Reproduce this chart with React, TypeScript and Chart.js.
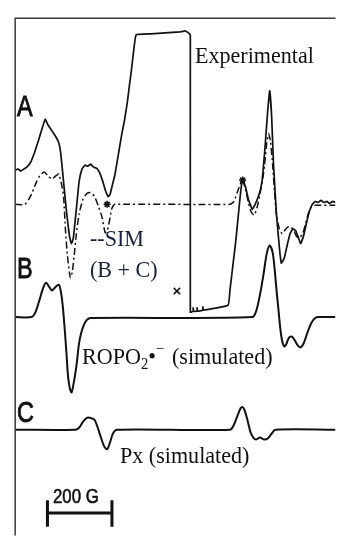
import React, { useEffect, useRef } from "react";
import { Chart, registerables } from "chart.js";

Chart.register(...registerables);

// Magnetic field (G, relative) and signal (arbitrary units)
const expField = [0, 9, 18, 27, 36, 48, 60, 72, 84, 93, 102, 114, 126, 135, 141, 150, 159, 168, 174, 180, 189, 198, 207, 216, 225, 234, 243, 252, 261, 270, 279, 288, 294, 300, 309, 321, 330, 339, 348, 354, 360, 366, 375, 420, 465, 510, 528, 537, 543, 543, 552, 552, 552, 564, 564, 564, 582, 582, 582, 660, 666, 675, 684, 693, 699, 705, 714, 723, 735, 744, 756, 765, 774, 783, 789, 795, 801, 810, 819, 825, 834, 843, 852, 861, 870, 879, 885, 894, 903, 912, 921, 930, 939, 948, 957, 966, 975, 984, 993];
const expSignal = [373, 374, 372, 374, 376, 381, 391, 403, 416, 425, 419, 413, 407, 401, 391, 361, 331, 306, 298, 303, 331, 361, 374, 378, 377, 379, 376, 375, 371, 363, 353, 346, 348, 356, 368, 391, 409, 424, 443, 459, 474, 491, 511, 512, 513, 514, 515, 513, 511, 228, 229, 233, 229, 229, 233, 229, 230, 234, 230, 235, 251, 276, 301, 331, 351, 363, 356, 343, 333, 338, 348, 361, 394, 434, 454, 428, 378, 328, 294, 278, 283, 296, 308, 313, 311, 303, 298, 306, 319, 331, 338, 341, 340, 342, 340, 341, 339, 341, 340];

const simField = [0, 30, 42, 54, 66, 78, 90, 102, 114, 126, 135, 144, 150, 156, 162, 168, 171, 177, 183, 189, 198, 210, 222, 234, 246, 258, 270, 279, 285, 291, 300, 309, 666, 678, 687, 696, 705, 714, 723, 732, 741, 750, 759, 768, 774, 780, 786, 792, 798, 804, 810, 819, 828, 837, 846, 855, 864, 873, 882, 891, 900, 909, 918, 930, 993];
const simSignal = [338, 338, 343, 351, 361, 368, 371, 367, 364, 367, 369, 358, 346, 311, 286, 269, 263, 269, 286, 306, 328, 343, 349, 350, 346, 336, 324, 309, 311, 319, 334, 338, 338, 341, 349, 357, 363, 353, 340, 330, 327, 335, 349, 365, 381, 401, 410, 401, 379, 351, 327, 313, 308, 312, 315, 315, 311, 305, 304, 308, 318, 329, 335, 337, 337];

const bField = [0, 51, 63, 75, 87, 96, 105, 114, 123, 135, 141, 147, 153, 159, 165, 174, 180, 189, 198, 204, 213, 222, 234, 735, 747, 759, 771, 780, 789, 798, 804, 810, 816, 822, 828, 834, 840, 849, 858, 867, 876, 885, 894, 906, 918, 930, 942, 993];
const bSignal = [223, 223, 228, 240, 253, 258, 254, 250, 253, 256, 250, 236, 213, 186, 159, 146, 153, 171, 196, 206, 215, 220, 222, 223, 229, 246, 269, 288, 296, 289, 273, 251, 231, 211, 198, 193, 195, 202, 203, 199, 194, 192, 196, 207, 217, 222, 223, 223];

const cField = [0, 186, 198, 210, 222, 234, 246, 255, 264, 276, 285, 294, 303, 315, 666, 678, 690, 699, 705, 711, 720, 729, 738, 747, 759, 771, 783, 795, 807, 993];
const cSignal = [108, 108, 110, 116, 120, 120, 118, 111, 102, 91, 88, 95, 104, 108, 108, 113, 123, 130, 131, 128, 118, 106, 100, 98, 100, 98, 99, 104, 108, 108];

const starField = [285, 705];
const starSignal = [338, 363];

const labels = ["A", "B", "C"];
const scaleBarG = [100, 300];

const toXY = (xs: number[], ys: number[]) => xs.map((x, i) => ({ x, y: ys[i] }));

const drawText = (
  ctx: CanvasRenderingContext2D,
  text: string,
  x: number,
  y: number,
  font: string,
  sx: number,
  color: string,
  stroke = 0
) => {
  ctx.save();
  ctx.font = font;
  ctx.fillStyle = color;
  ctx.textBaseline = "alphabetic";
  ctx.translate(x, y);
  ctx.scale(sx, 1);
  ctx.fillText(text, 0, 0);
  if (stroke > 0) {
    ctx.strokeStyle = color;
    ctx.lineWidth = stroke;
    ctx.strokeText(text, 0, 0);
  }
  ctx.restore();
};

const decor = {
  id: "decor",
  afterDatasetsDraw(chart: any) {
    const ctx: CanvasRenderingContext2D = chart.ctx;
    const xs = chart.scales.x;
    const ys = chart.scales.y;
    const x0 = xs.getPixelForValue(0);
    const yTop = ys.getPixelForValue(528);
    const yBot = ys.getPixelForValue(0);
    const right = chart.chartArea.right;
    ctx.save();
    ctx.strokeStyle = "#3a3a3a";
    ctx.lineWidth = 1.5;
    ctx.beginPath();
    ctx.moveTo(x0, yBot);
    ctx.lineTo(x0, yTop);
    ctx.lineTo(right, yTop);
    ctx.stroke();

    // scale bar
    const bx1 = xs.getPixelForValue(scaleBarG[0]);
    const bx2 = xs.getPixelForValue(scaleBarG[1]);
    const by = ys.getPixelForValue(23);
    const bt = ys.getPixelForValue(36);
    const bb = ys.getPixelForValue(9);
    ctx.strokeStyle = "#111";
    ctx.lineWidth = 3;
    ctx.beginPath();
    ctx.moveTo(bx1, by);
    ctx.lineTo(bx2, by);
    ctx.moveTo(bx1, bt);
    ctx.lineTo(bx1, bb);
    ctx.moveTo(bx2, bt);
    ctx.lineTo(bx2, bb);
    ctx.stroke();
    ctx.restore();

    const sans30 = "30px 'Liberation Sans', Arial, sans-serif";
    const serif = "24px 'Liberation Serif', 'Times New Roman', serif";
    const ink = "#111";
    drawText(ctx, labels[0], 17, 116, sans30, 0.78, ink, 0.9);
    drawText(ctx, labels[1], 17, 278, sans30, 0.78, ink, 0.9);
    drawText(ctx, labels[2], 17, 422, sans30, 0.78, ink, 0.9);

    drawText(ctx, "Experimental", 195, 63, serif, 0.92, ink);
    drawText(ctx, "--SIM", 90, 246, serif, 0.92, "#17203a");
    drawText(ctx, "(B + C)", 90, 277, serif, 0.92, "#17203a");

    ctx.save();
    ctx.font = "bold 15px 'Liberation Sans', Arial, sans-serif";
    ctx.fillStyle = ink;
    ctx.textAlign = "center";
    ctx.textBaseline = "middle";
    ctx.fillText("×", 177, 292);
    ctx.restore();

    // ROPO2•− (simulated)
    ctx.save();
    let cx = 82;
    const base = 364;
    const sx = 0.92;
    ctx.fillStyle = ink;
    ctx.font = serif;
    const w1 = ctx.measureText("ROPO").width * sx;
    drawText(ctx, "ROPO", cx, base, serif, sx, ink);
    cx += w1;
    const sub = "16px 'Liberation Serif', 'Times New Roman', serif";
    ctx.font = sub;
    const w2 = ctx.measureText("2").width * sx;
    drawText(ctx, "2", cx, base + 5, sub, sx, ink);
    cx += w2;
    ctx.font = serif;
    const w3 = ctx.measureText("•").width * sx;
    drawText(ctx, "•", cx, base, serif, sx, ink);
    cx += w3;
    const sup = "16px 'Liberation Serif', 'Times New Roman', serif";
    drawText(ctx, "−", cx, base - 10, sup, sx, ink);
    ctx.restore();
    drawText(ctx, "(simulated)", 172, base, serif, 0.92, ink);

    drawText(ctx, "Px (simulated)", 120, 463, serif, 0.92, ink);
    drawText(ctx, "200 G", 53, 503, "21px 'Liberation Sans', Arial, sans-serif", 0.8, ink, 0.6);
  },
};

export default function App() {
  const ref = useRef<HTMLCanvasElement>(null);
  useEffect(() => {
    const chart = new Chart(ref.current as HTMLCanvasElement, {
      type: "line",
      data: {
        datasets: [
          {
            label: "Experimental",
            data: toXY(expField, expSignal),
            borderColor: "#111",
            borderWidth: 1.7,
            pointRadius: 0,
            tension: 0.1,
          },
          {
            label: "SIM (B + C)",
            data: toXY(simField, simSignal),
            borderColor: "#111",
            borderWidth: 1.5,
            borderDash: [7, 3, 2, 3],
            pointRadius: 0,
            tension: 0.2,
          },
          {
            label: "ROPO2 (simulated)",
            data: toXY(bField, bSignal),
            borderColor: "#111",
            borderWidth: 2,
            pointRadius: 0,
            tension: 0.3,
          },
          {
            label: "Px (simulated)",
            data: toXY(cField, cSignal),
            borderColor: "#111",
            borderWidth: 2,
            pointRadius: 0,
            tension: 0.3,
          },
          {
            label: "marks",
            type: "scatter",
            data: toXY(starField, starSignal),
            showLine: false,
            pointStyle: "star",
            pointRadius: 3.5,
            borderColor: "#111",
            borderWidth: 1.5,
            backgroundColor: "#111",
          } as any,
        ],
      },
      options: {
        animation: false,
        responsive: false,
        events: [],
        layout: { padding: 0 },
        plugins: { legend: { display: false }, tooltip: { enabled: false } },
        scales: {
          x: { type: "linear", display: false, min: -30, max: 993 },
          y: { type: "linear", display: false, min: 0, max: 541 },
        },
      },
      plugins: [decor],
    });
    return () => chart.destroy();
  }, []);
  return (
    <div style={{ position: "fixed", left: 0, top: 0, width: 341, height: 541, background: "#fff" }}>
      <canvas ref={ref} width={341} height={541} style={{ display: "block" }} />
    </div>
  );
}
